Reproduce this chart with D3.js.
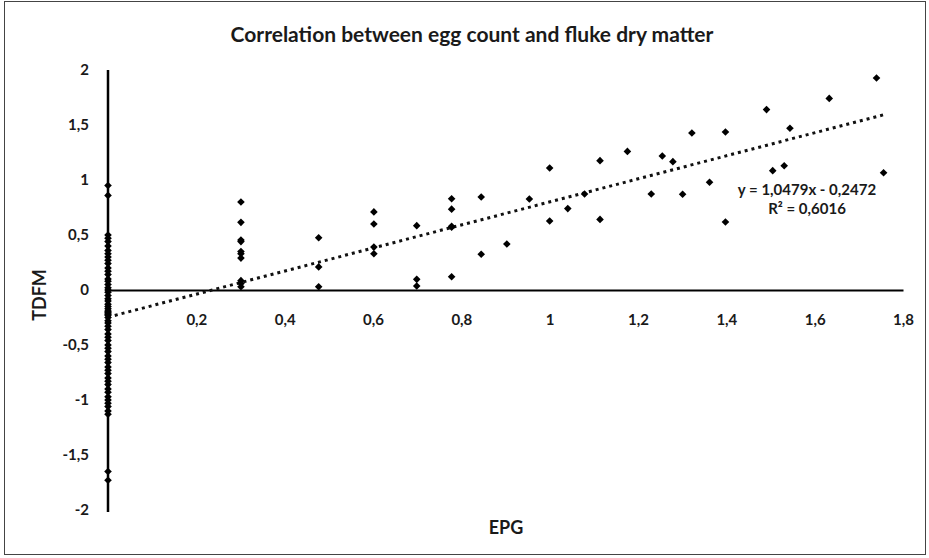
<!DOCTYPE html>
<html>
<head>
<meta charset="utf-8">
<script src="https://cdn.jsdelivr.net/npm/d3@7"></script>
<style>
    body { margin: 0; background: #fff; }
    text { font-family: Lato, "Open Sans", sans-serif; fill: #1a1a1a; }
</style>
</head>
<body>
<div id="chart"></div>
<script>
// EPG (log) / TDFM pairs
const epgZero = [0.95, 0.86, 0.5, 0.47, 0.44, 0.4, 0.36, 0.33, 0.3, 0.27, 0.24, 0.2, 0.17, 0.14, 0.1,
    0.08, 0.05, 0.02, 0, -0.02, -0.05, -0.08, -0.1, -0.13, -0.15, -0.17, -0.19, -0.2, -0.21, -0.22,
    -0.23, -0.25, -0.28, -0.3, -0.33, -0.36, -0.4, -0.43, -0.46, -0.5, -0.53, -0.56, -0.6, -0.63,
    -0.66, -0.7, -0.73, -0.76, -0.8, -0.83, -0.86, -0.9, -0.93, -0.97, -1.0, -1.03, -1.06, -1.1,
    -1.13, -1.65, -1.73];
const epgX = [0.301, 0.301, 0.301, 0.301, 0.301, 0.301, 0.301, 0.301, 0.301, 0.301,
    0.477, 0.477, 0.477,
    0.602, 0.602, 0.602, 0.602,
    0.699, 0.699, 0.699,
    0.778, 0.778, 0.778, 0.778, 0.778,
    0.845, 0.845, 0.903, 0.954, 1.0, 1.0, 1.041, 1.079, 1.114, 1.114, 1.176,
    1.230, 1.255, 1.279, 1.301, 1.322, 1.362, 1.398, 1.398,
    1.491, 1.505, 1.531, 1.544, 1.633, 1.740, 1.756];
const tdfmY = [0.8, 0.615, 0.455, 0.44, 0.35, 0.33, 0.29, 0.085, 0.06, 0.03,
    0.475, 0.21, 0.03,
    0.71, 0.6, 0.39, 0.33,
    0.585, 0.097, 0.036,
    0.83, 0.735, 0.58, 0.57, 0.12,
    0.845, 0.325, 0.418, 0.827, 1.109, 0.627, 0.74, 0.873, 1.176, 0.642, 1.26,
    0.873, 1.218, 1.167, 0.87, 1.427, 0.979, 1.436, 0.618,
    1.64, 1.085, 1.13, 1.47, 1.742, 1.927, 1.066];
const xTicks = [0.2, 0.4, 0.6, 0.8, 1, 1.2, 1.4, 1.6, 1.8];
const yTicks = [-2, -1.5, -1, -0.5, 0, 0.5, 1, 1.5, 2];
const slope = 1.0479;
const intercept = -0.2472;
const rSquared = '0,6016';

const width = 929;
const height = 558;

const locale = d3.formatLocale({decimal: ',', thousands: ' ', grouping: [3], currency: ['', ''], minus: '-'});
const fmt = locale.format('~g');

const points = epgZero.map(v => ({x: 0, y: v}))
    .concat(epgX.map((v, i) => ({x: v, y: tdfmY[i]})));

const x = d3.scaleLinear().domain([0, 1.8]).range([108, 903]);
const y = d3.scaleLinear().domain([-2, 2]).range([510, 70]);

const svg = d3.select('#chart').append('svg')
    .attr('width', width)
    .attr('height', height);

// frame
svg.append('rect')
    .attr('x', 4.5).attr('y', 1.5)
    .attr('width', 921).attr('height', 553)
    .attr('fill', 'none')
    .attr('stroke', '#444')
    .attr('stroke-width', 1);

// title
svg.append('text')
    .attr('x', 472).attr('y', 42)
    .attr('text-anchor', 'middle')
    .attr('font-size', '21px')
    .attr('font-weight', 'bold')
    .text('Correlation between egg count and fluke dry matter');

// x axis through zero
const xAxis = svg.append('g')
    .attr('transform', `translate(0,${y(0)})`)
    .call(d3.axisBottom(x).tickValues(xTicks).tickSize(0).tickSizeOuter(0).tickPadding(24).tickFormat(fmt));
xAxis.select('.domain').attr('stroke', '#000').attr('stroke-width', 2);
xAxis.selectAll('text')
    .attr('font-size', '15px')
    .attr('font-weight', 'bold')
    .attr('fill', '#1a1a1a')
    .attr('font-family', 'Lato, sans-serif');

// y axis
const yAxis = svg.append('g')
    .attr('transform', `translate(${x(0)},0)`)
    .call(d3.axisLeft(y).tickValues(yTicks).tickSize(0).tickSizeOuter(0).tickPadding(19).tickFormat(fmt));
yAxis.select('.domain').attr('stroke', '#000').attr('stroke-width', 2.5)
    .attr('d', `M0,${y(2)}V${y(-2) + 2}`);
yAxis.selectAll('text')
    .attr('font-size', '15px')
    .attr('font-weight', 'bold')
    .attr('fill', '#1a1a1a')
    .attr('font-family', 'Lato, sans-serif');

// axis titles
svg.append('text')
    .attr('transform', 'translate(46,295) rotate(-90)')
    .attr('text-anchor', 'middle')
    .attr('font-size', '18px')
    .attr('font-weight', 'bold')
    .text('TDFM');

svg.append('text')
    .attr('x', 506).attr('y', 534)
    .attr('text-anchor', 'middle')
    .attr('font-size', '18px')
    .attr('font-weight', 'bold')
    .text('EPG');

// trend line
const xMax = d3.max(points, d => d.x);
svg.append('line')
    .attr('x1', x(0)).attr('y1', y(intercept))
    .attr('x2', x(xMax)).attr('y2', y(slope * xMax + intercept))
    .attr('stroke', '#111')
    .attr('stroke-width', 3)
    .attr('stroke-dasharray', '3,4');

// points (diamonds)
svg.selectAll('path.point')
    .data(points)
    .enter()
    .append('path')
    .attr('class', 'point')
    .attr('transform', d => `translate(${x(d.x)},${y(d.y)})`)
    .attr('d', 'M0,-3.8L3.8,0L0,3.8L-3.8,0Z')
    .attr('fill', '#000');

// equation
const eq = svg.append('text')
    .attr('x', 807).attr('y', 195)
    .attr('text-anchor', 'middle')
    .attr('font-size', '15px')
    .attr('font-weight', 'bold')
    .attr('fill', '#2a2a2a');
eq.append('tspan').text('y = ' + fmt(slope) + 'x - ' + fmt(-intercept));
eq.append('tspan').attr('x', 807).attr('dy', 19).text('R² = ' + rSquared);
</script>
</body>
</html>
